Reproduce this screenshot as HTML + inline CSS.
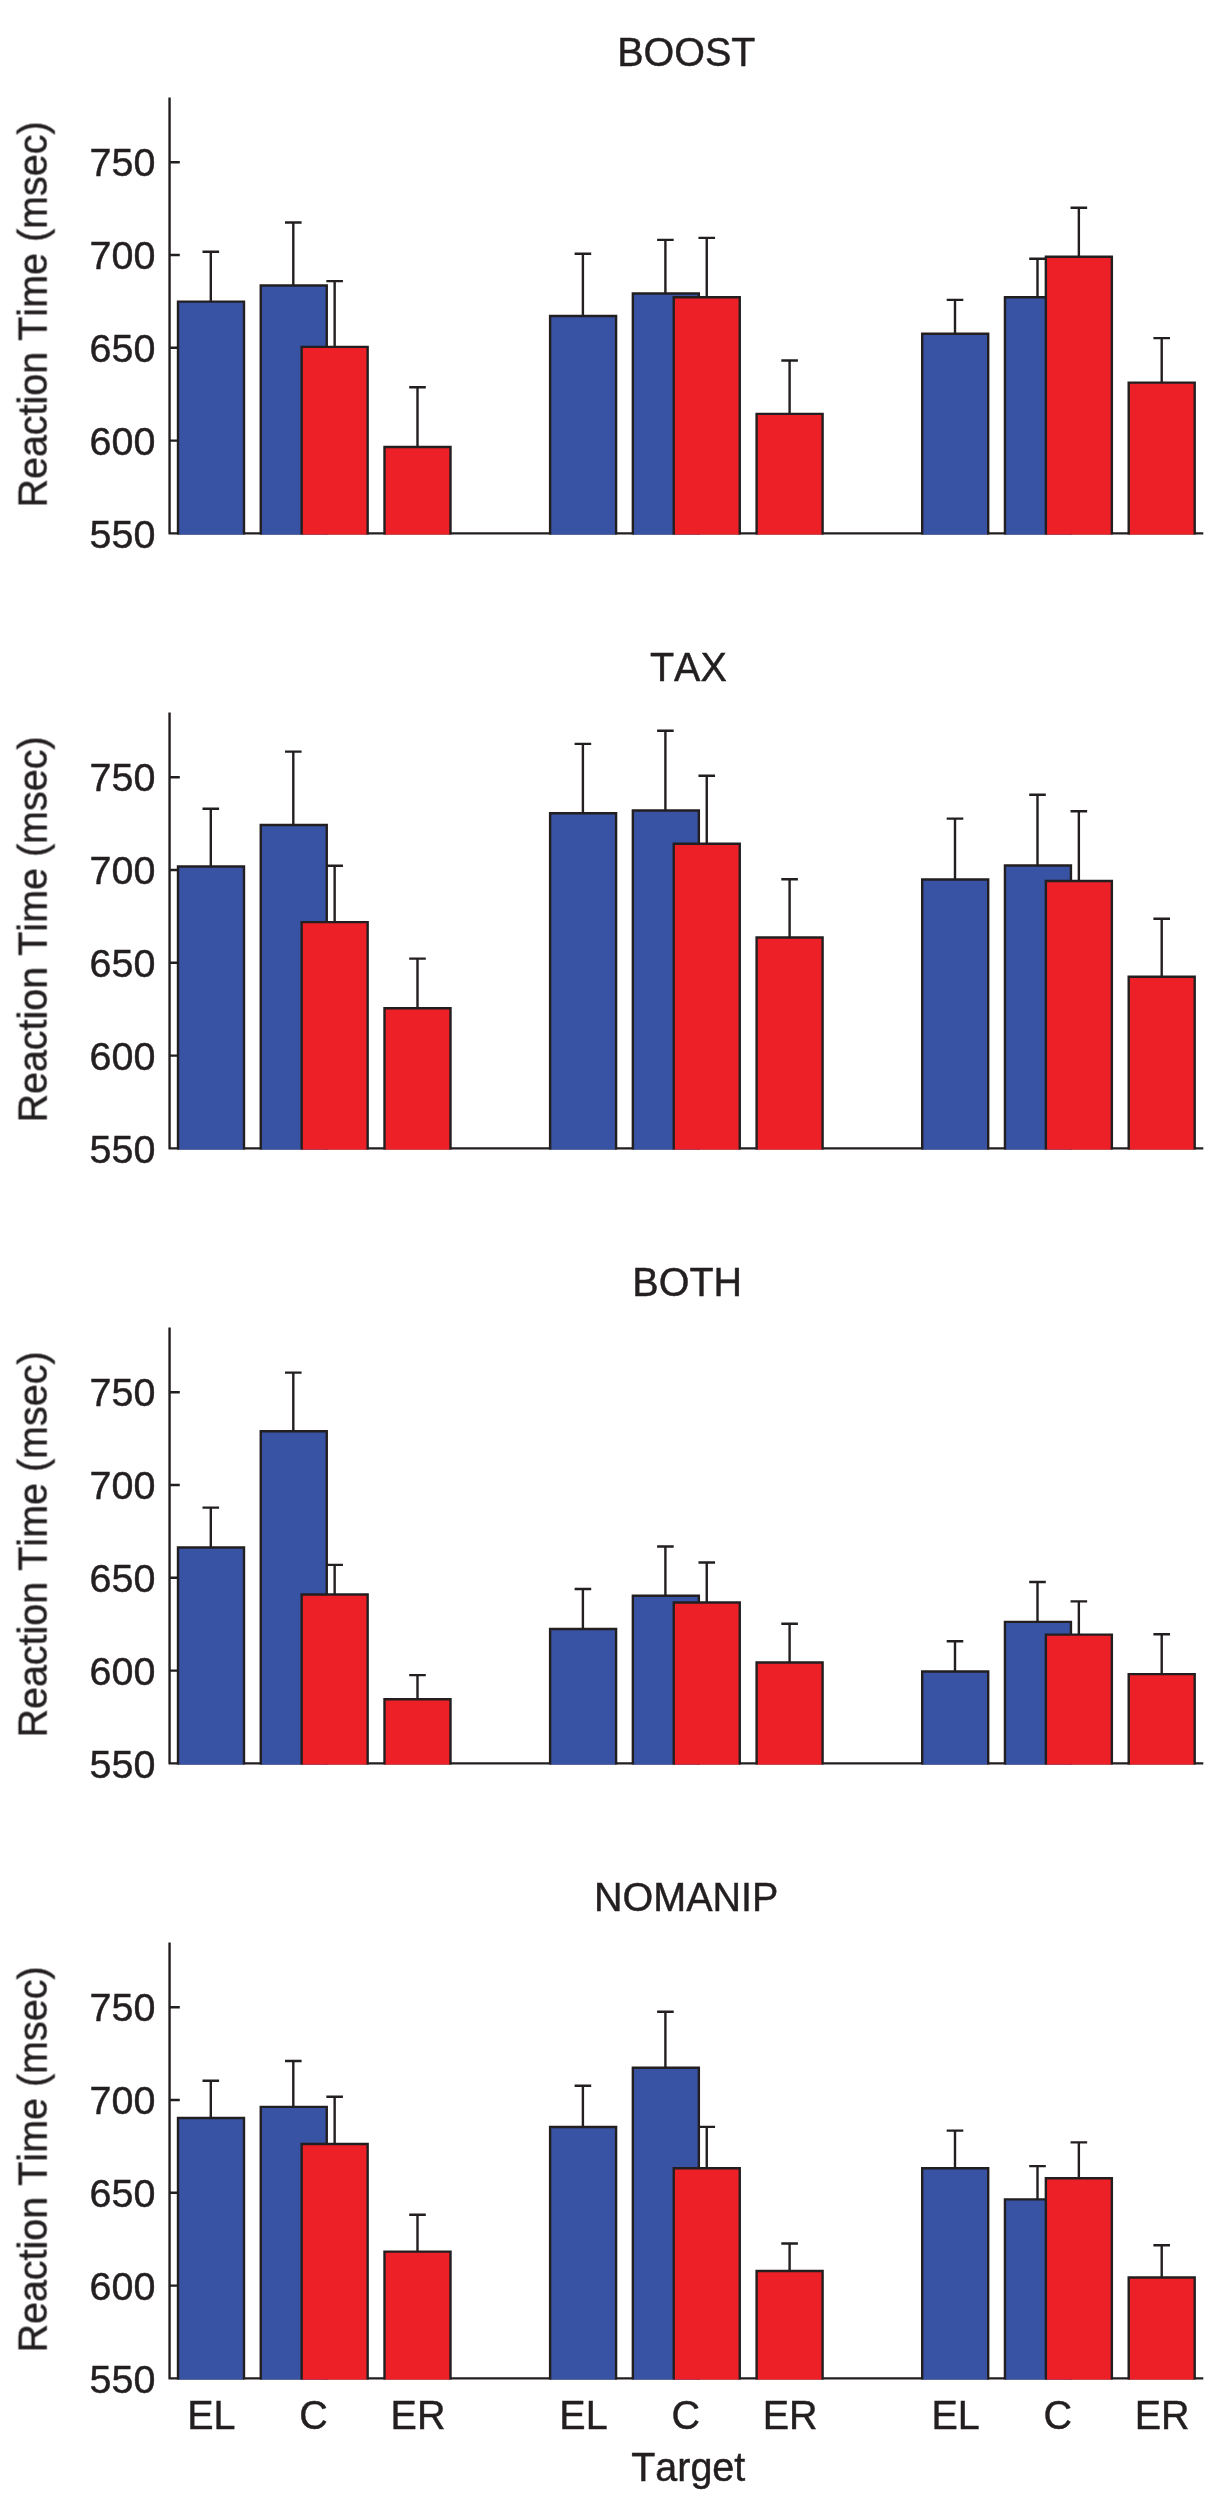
<!DOCTYPE html>
<html lang="en"><head><meta charset="utf-8"><title>Reaction Time by Target</title>
<style>html,body{margin:0;padding:0;background:#fff}svg{display:block}text{font-kerning:none;font-family:"Liberation Sans",sans-serif;font-size:39.5px;fill:#231F20;stroke:#231F20;stroke-width:0.45}.ln{stroke:#231F20;fill:none;stroke-width:2.4}.b{fill:#3953A4}.r{fill:#ED2027}.o{fill:none;stroke:#231F20;stroke-width:2.4}.e{stroke:#231F20;fill:none;stroke-width:2.4}</style></head><body>
<svg width="1224" height="2500" viewBox="0 0 1224 2500">
<rect x="0" y="0" width="1224" height="2500" fill="#fff"/>
<g>
<path class="ln" stroke-linejoin="round" d="M169.55 97.6V533.4H1203.3"/>
<path class="ln" d="M169.55 162.2H179.8M169.55 255H179.8M169.55 347.8H179.8M169.55 440.6H179.8"/>
<rect class="b" x="178" y="301.65" width="66" height="232.95"/>
<path class="o" d="M178 534.6V301.65H244V534.6"/>
<path class="e" d="M210.8 301.65V251.7M202.5 251.7H219.1"/>
<rect class="b" x="260.75" y="285.55" width="66" height="249.05"/>
<path class="o" d="M260.75 534.6V285.55H326.75V534.6"/>
<path class="e" d="M293.3 285.55V222.5M285 222.5H301.6"/>
<rect class="b" x="550.1" y="316.05" width="66" height="218.55"/>
<path class="o" d="M550.1 534.6V316.05H616.1V534.6"/>
<path class="e" d="M582.9 316.05V253.7M574.6 253.7H591.2"/>
<rect class="b" x="632.85" y="293.55" width="66" height="241.05"/>
<path class="o" d="M632.85 534.6V293.55H698.85V534.6"/>
<path class="e" d="M665.4 293.55V239.9M657.1 239.9H673.7"/>
<rect class="b" x="922.2" y="333.75" width="66" height="200.85"/>
<path class="o" d="M922.2 534.6V333.75H988.2V534.6"/>
<path class="e" d="M955 333.75V299.9M946.7 299.9H963.3"/>
<rect class="b" x="1004.95" y="297.25" width="66" height="237.35"/>
<path class="o" d="M1004.95 534.6V297.25H1070.95V534.6"/>
<path class="e" d="M1037.5 297.25V258.7M1029.2 258.7H1045.8"/>
<rect class="r" x="301.65" y="346.85" width="66" height="187.75"/>
<path class="o" d="M301.65 534.6V346.85H367.65V534.6"/>
<path class="e" d="M334.65 346.85V281.1M326.35 281.1H342.95"/>
<rect class="r" x="384.5" y="447.05" width="66" height="87.55"/>
<path class="o" d="M384.5 534.6V447.05H450.5V534.6"/>
<path class="e" d="M417.5 447.05V387.3M409.2 387.3H425.8"/>
<rect class="r" x="673.75" y="297.25" width="66" height="237.35"/>
<path class="o" d="M673.75 534.6V297.25H739.75V534.6"/>
<path class="e" d="M706.75 297.25V237.9M698.45 237.9H715.05"/>
<rect class="r" x="756.6" y="413.85" width="66" height="120.75"/>
<path class="o" d="M756.6 534.6V413.85H822.6V534.6"/>
<path class="e" d="M789.6 413.85V360.5M781.3 360.5H797.9"/>
<rect class="r" x="1045.85" y="256.75" width="66" height="277.85"/>
<path class="o" d="M1045.85 534.6V256.75H1111.85V534.6"/>
<path class="e" d="M1078.85 256.75V207.8M1070.55 207.8H1087.15"/>
<rect class="r" x="1128.7" y="382.65" width="66" height="151.95"/>
<path class="o" d="M1128.7 534.6V382.65H1194.7V534.6"/>
<path class="e" d="M1161.7 382.65V338.1M1153.4 338.1H1170"/>
</g>
<g>
<path class="ln" stroke-linejoin="round" d="M169.55 712.6V1148.4H1203.3"/>
<path class="ln" d="M169.55 777.2H179.8M169.55 870H179.8M169.55 962.8H179.8M169.55 1055.6H179.8"/>
<rect class="b" x="178" y="866.55" width="66" height="283.05"/>
<path class="o" d="M178 1149.6V866.55H244V1149.6"/>
<path class="e" d="M210.8 866.55V808.8M202.5 808.8H219.1"/>
<rect class="b" x="260.75" y="824.95" width="66" height="324.65"/>
<path class="o" d="M260.75 1149.6V824.95H326.75V1149.6"/>
<path class="e" d="M293.3 824.95V751.6M285 751.6H301.6"/>
<rect class="b" x="550.1" y="813.25" width="66" height="336.35"/>
<path class="o" d="M550.1 1149.6V813.25H616.1V1149.6"/>
<path class="e" d="M582.9 813.25V743.9M574.6 743.9H591.2"/>
<rect class="b" x="632.85" y="810.55" width="66" height="339.05"/>
<path class="o" d="M632.85 1149.6V810.55H698.85V1149.6"/>
<path class="e" d="M665.4 810.55V730.8M657.1 730.8H673.7"/>
<rect class="b" x="922.2" y="879.55" width="66" height="270.05"/>
<path class="o" d="M922.2 1149.6V879.55H988.2V1149.6"/>
<path class="e" d="M955 879.55V818.6M946.7 818.6H963.3"/>
<rect class="b" x="1004.95" y="865.55" width="66" height="284.05"/>
<path class="o" d="M1004.95 1149.6V865.55H1070.95V1149.6"/>
<path class="e" d="M1037.5 865.55V794.8M1029.2 794.8H1045.8"/>
<rect class="r" x="301.65" y="922.15" width="66" height="227.45"/>
<path class="o" d="M301.65 1149.6V922.15H367.65V1149.6"/>
<path class="e" d="M334.65 922.15V865.8M326.35 865.8H342.95"/>
<rect class="r" x="384.5" y="1008.25" width="66" height="141.35"/>
<path class="o" d="M384.5 1149.6V1008.25H450.5V1149.6"/>
<path class="e" d="M417.5 1008.25V958.6M409.2 958.6H425.8"/>
<rect class="r" x="673.75" y="843.75" width="66" height="305.85"/>
<path class="o" d="M673.75 1149.6V843.75H739.75V1149.6"/>
<path class="e" d="M706.75 843.75V775.7M698.45 775.7H715.05"/>
<rect class="r" x="756.6" y="937.55" width="66" height="212.05"/>
<path class="o" d="M756.6 1149.6V937.55H822.6V1149.6"/>
<path class="e" d="M789.6 937.55V879.2M781.3 879.2H797.9"/>
<rect class="r" x="1045.85" y="880.95" width="66" height="268.65"/>
<path class="o" d="M1045.85 1149.6V880.95H1111.85V1149.6"/>
<path class="e" d="M1078.85 880.95V811.2M1070.55 811.2H1087.15"/>
<rect class="r" x="1128.7" y="976.75" width="66" height="172.85"/>
<path class="o" d="M1128.7 1149.6V976.75H1194.7V1149.6"/>
<path class="e" d="M1161.7 976.75V918.7M1153.4 918.7H1170"/>
</g>
<g>
<path class="ln" stroke-linejoin="round" d="M169.55 1327.6V1763.4H1203.3"/>
<path class="ln" d="M169.55 1392.2H179.8M169.55 1485H179.8M169.55 1577.8H179.8M169.55 1670.6H179.8"/>
<rect class="b" x="178" y="1547.55" width="66" height="217.05"/>
<path class="o" d="M178 1764.6V1547.55H244V1764.6"/>
<path class="e" d="M210.8 1547.55V1507.6M202.5 1507.6H219.1"/>
<rect class="b" x="260.75" y="1431.25" width="66" height="333.35"/>
<path class="o" d="M260.75 1764.6V1431.25H326.75V1764.6"/>
<path class="e" d="M293.3 1431.25V1372.6M285 1372.6H301.6"/>
<rect class="b" x="550.1" y="1628.95" width="66" height="135.65"/>
<path class="o" d="M550.1 1764.6V1628.95H616.1V1764.6"/>
<path class="e" d="M582.9 1628.95V1589M574.6 1589H591.2"/>
<rect class="b" x="632.85" y="1595.75" width="66" height="168.85"/>
<path class="o" d="M632.85 1764.6V1595.75H698.85V1764.6"/>
<path class="e" d="M665.4 1595.75V1546.5M657.1 1546.5H673.7"/>
<rect class="b" x="922.2" y="1671.45" width="66" height="93.15"/>
<path class="o" d="M922.2 1764.6V1671.45H988.2V1764.6"/>
<path class="e" d="M955 1671.45V1641.3M946.7 1641.3H963.3"/>
<rect class="b" x="1004.95" y="1621.85" width="66" height="142.75"/>
<path class="o" d="M1004.95 1764.6V1621.85H1070.95V1764.6"/>
<path class="e" d="M1037.5 1621.85V1582M1029.2 1582H1045.8"/>
<rect class="r" x="301.65" y="1594.45" width="66" height="170.15"/>
<path class="o" d="M301.65 1764.6V1594.45H367.65V1764.6"/>
<path class="e" d="M334.65 1594.45V1564.9M326.35 1564.9H342.95"/>
<rect class="r" x="384.5" y="1699.25" width="66" height="65.35"/>
<path class="o" d="M384.5 1764.6V1699.25H450.5V1764.6"/>
<path class="e" d="M417.5 1699.25V1675.1M409.2 1675.1H425.8"/>
<rect class="r" x="673.75" y="1602.45" width="66" height="162.15"/>
<path class="o" d="M673.75 1764.6V1602.45H739.75V1764.6"/>
<path class="e" d="M706.75 1602.45V1562.5M698.45 1562.5H715.05"/>
<rect class="r" x="756.6" y="1662.45" width="66" height="102.15"/>
<path class="o" d="M756.6 1764.6V1662.45H822.6V1764.6"/>
<path class="e" d="M789.6 1662.45V1623.8M781.3 1623.8H797.9"/>
<rect class="r" x="1045.85" y="1634.65" width="66" height="129.95"/>
<path class="o" d="M1045.85 1764.6V1634.65H1111.85V1764.6"/>
<path class="e" d="M1078.85 1634.65V1601.4M1070.55 1601.4H1087.15"/>
<rect class="r" x="1128.7" y="1674.15" width="66" height="90.45"/>
<path class="o" d="M1128.7 1764.6V1674.15H1194.7V1764.6"/>
<path class="e" d="M1161.7 1674.15V1634.2M1153.4 1634.2H1170"/>
</g>
<g>
<path class="ln" stroke-linejoin="round" d="M169.55 1942.6V2378.4H1203.3"/>
<path class="ln" d="M169.55 2007.2H179.8M169.55 2100H179.8M169.55 2192.8H179.8M169.55 2285.6H179.8"/>
<rect class="b" x="178" y="2117.95" width="66" height="261.65"/>
<path class="o" d="M178 2379.6V2117.95H244V2379.6"/>
<path class="e" d="M210.8 2117.95V2080.7M202.5 2080.7H219.1"/>
<rect class="b" x="260.75" y="2106.85" width="66" height="272.75"/>
<path class="o" d="M260.75 2379.6V2106.85H326.75V2379.6"/>
<path class="e" d="M293.3 2106.85V2061M285 2061H301.6"/>
<rect class="b" x="550.1" y="2126.95" width="66" height="252.65"/>
<path class="o" d="M550.1 2379.6V2126.95H616.1V2379.6"/>
<path class="e" d="M582.9 2126.95V2085.7M574.6 2085.7H591.2"/>
<rect class="b" x="632.85" y="2067.75" width="66" height="311.85"/>
<path class="o" d="M632.85 2379.6V2067.75H698.85V2379.6"/>
<path class="e" d="M665.4 2067.75V2011.7M657.1 2011.7H673.7"/>
<rect class="b" x="922.2" y="2168.25" width="66" height="211.35"/>
<path class="o" d="M922.2 2379.6V2168.25H988.2V2379.6"/>
<path class="e" d="M955 2168.25V2130.6M946.7 2130.6H963.3"/>
<rect class="b" x="1004.95" y="2199.35" width="66" height="180.25"/>
<path class="o" d="M1004.95 2379.6V2199.35H1070.95V2379.6"/>
<path class="e" d="M1037.5 2199.35V2166.1M1029.2 2166.1H1045.8"/>
<rect class="r" x="301.65" y="2144.05" width="66" height="235.55"/>
<path class="o" d="M301.65 2379.6V2144.05H367.65V2379.6"/>
<path class="e" d="M334.65 2144.05V2096.8M326.35 2096.8H342.95"/>
<rect class="r" x="384.5" y="2251.65" width="66" height="127.95"/>
<path class="o" d="M384.5 2379.6V2251.65H450.5V2379.6"/>
<path class="e" d="M417.5 2251.65V2214.7M409.2 2214.7H425.8"/>
<rect class="r" x="673.75" y="2168.25" width="66" height="211.35"/>
<path class="o" d="M673.75 2379.6V2168.25H739.75V2379.6"/>
<path class="e" d="M706.75 2168.25V2126.9M698.45 2126.9H715.05"/>
<rect class="r" x="756.6" y="2271.05" width="66" height="108.55"/>
<path class="o" d="M756.6 2379.6V2271.05H822.6V2379.6"/>
<path class="e" d="M789.6 2271.05V2243.5M781.3 2243.5H797.9"/>
<rect class="r" x="1045.85" y="2178.25" width="66" height="201.35"/>
<path class="o" d="M1045.85 2379.6V2178.25H1111.85V2379.6"/>
<path class="e" d="M1078.85 2178.25V2142.4M1070.55 2142.4H1087.15"/>
<rect class="r" x="1128.7" y="2277.45" width="66" height="102.15"/>
<path class="o" d="M1128.7 2379.6V2277.45H1194.7V2379.6"/>
<path class="e" d="M1161.7 2277.45V2245.2M1153.4 2245.2H1170"/>
</g>
<g opacity="0.999">
<text transform="translate(686.25 66.3) scale(1 1.01)" text-anchor="middle">BOOST</text>
<text transform="translate(47 314.5) rotate(-90) scale(1 1.01)" text-anchor="middle">Reaction Time (msec)</text>
<text transform="translate(155.4 176.4) scale(1 0.98)" text-anchor="end">750</text>
<text transform="translate(155.4 269.2) scale(1 0.98)" text-anchor="end">700</text>
<text transform="translate(155.4 362) scale(1 0.98)" text-anchor="end">650</text>
<text transform="translate(155.4 454.8) scale(1 0.98)" text-anchor="end">600</text>
<text transform="translate(155.4 547.6) scale(1 0.98)" text-anchor="end">550</text>
<text transform="translate(688.35 681.3) scale(1 1.01)" text-anchor="middle">TAX</text>
<text transform="translate(47 929.5) rotate(-90) scale(1 1.01)" text-anchor="middle">Reaction Time (msec)</text>
<text transform="translate(155.4 791.4) scale(1 0.98)" text-anchor="end">750</text>
<text transform="translate(155.4 884.2) scale(1 0.98)" text-anchor="end">700</text>
<text transform="translate(155.4 977) scale(1 0.98)" text-anchor="end">650</text>
<text transform="translate(155.4 1069.8) scale(1 0.98)" text-anchor="end">600</text>
<text transform="translate(155.4 1162.6) scale(1 0.98)" text-anchor="end">550</text>
<text transform="translate(687.2 1296.3) scale(1 1.01)" text-anchor="middle">BOTH</text>
<text transform="translate(47 1544.5) rotate(-90) scale(1 1.01)" text-anchor="middle">Reaction Time (msec)</text>
<text transform="translate(155.4 1406.4) scale(1 0.98)" text-anchor="end">750</text>
<text transform="translate(155.4 1499.2) scale(1 0.98)" text-anchor="end">700</text>
<text transform="translate(155.4 1592) scale(1 0.98)" text-anchor="end">650</text>
<text transform="translate(155.4 1684.8) scale(1 0.98)" text-anchor="end">600</text>
<text transform="translate(155.4 1777.6) scale(1 0.98)" text-anchor="end">550</text>
<text transform="translate(686.2 1911.3) scale(1 1.01)" text-anchor="middle">NOMANIP</text>
<text transform="translate(47 2159.5) rotate(-90) scale(1 1.01)" text-anchor="middle">Reaction Time (msec)</text>
<text transform="translate(155.4 2021.4) scale(1 0.98)" text-anchor="end">750</text>
<text transform="translate(155.4 2114.2) scale(1 0.98)" text-anchor="end">700</text>
<text transform="translate(155.4 2207) scale(1 0.98)" text-anchor="end">650</text>
<text transform="translate(155.4 2299.8) scale(1 0.98)" text-anchor="end">600</text>
<text transform="translate(155.4 2392.6) scale(1 0.98)" text-anchor="end">550</text>
<text transform="translate(211.4 2429) scale(1 1.01)" text-anchor="middle">EL</text>
<text transform="translate(313.6 2429) scale(1 1.01)" text-anchor="middle">C</text>
<text transform="translate(418 2429) scale(1 1.01)" text-anchor="middle">ER</text>
<text transform="translate(583.5 2429) scale(1 1.01)" text-anchor="middle">EL</text>
<text transform="translate(685.7 2429) scale(1 1.01)" text-anchor="middle">C</text>
<text transform="translate(790.1 2429) scale(1 1.01)" text-anchor="middle">ER</text>
<text transform="translate(955.6 2429) scale(1 1.01)" text-anchor="middle">EL</text>
<text transform="translate(1057.8 2429) scale(1 1.01)" text-anchor="middle">C</text>
<text transform="translate(1162.2 2429) scale(1 1.01)" text-anchor="middle">ER</text>
<text transform="translate(688.2 2481) scale(1 1.01)" text-anchor="middle">Target</text>
</g>
</svg></body></html>
